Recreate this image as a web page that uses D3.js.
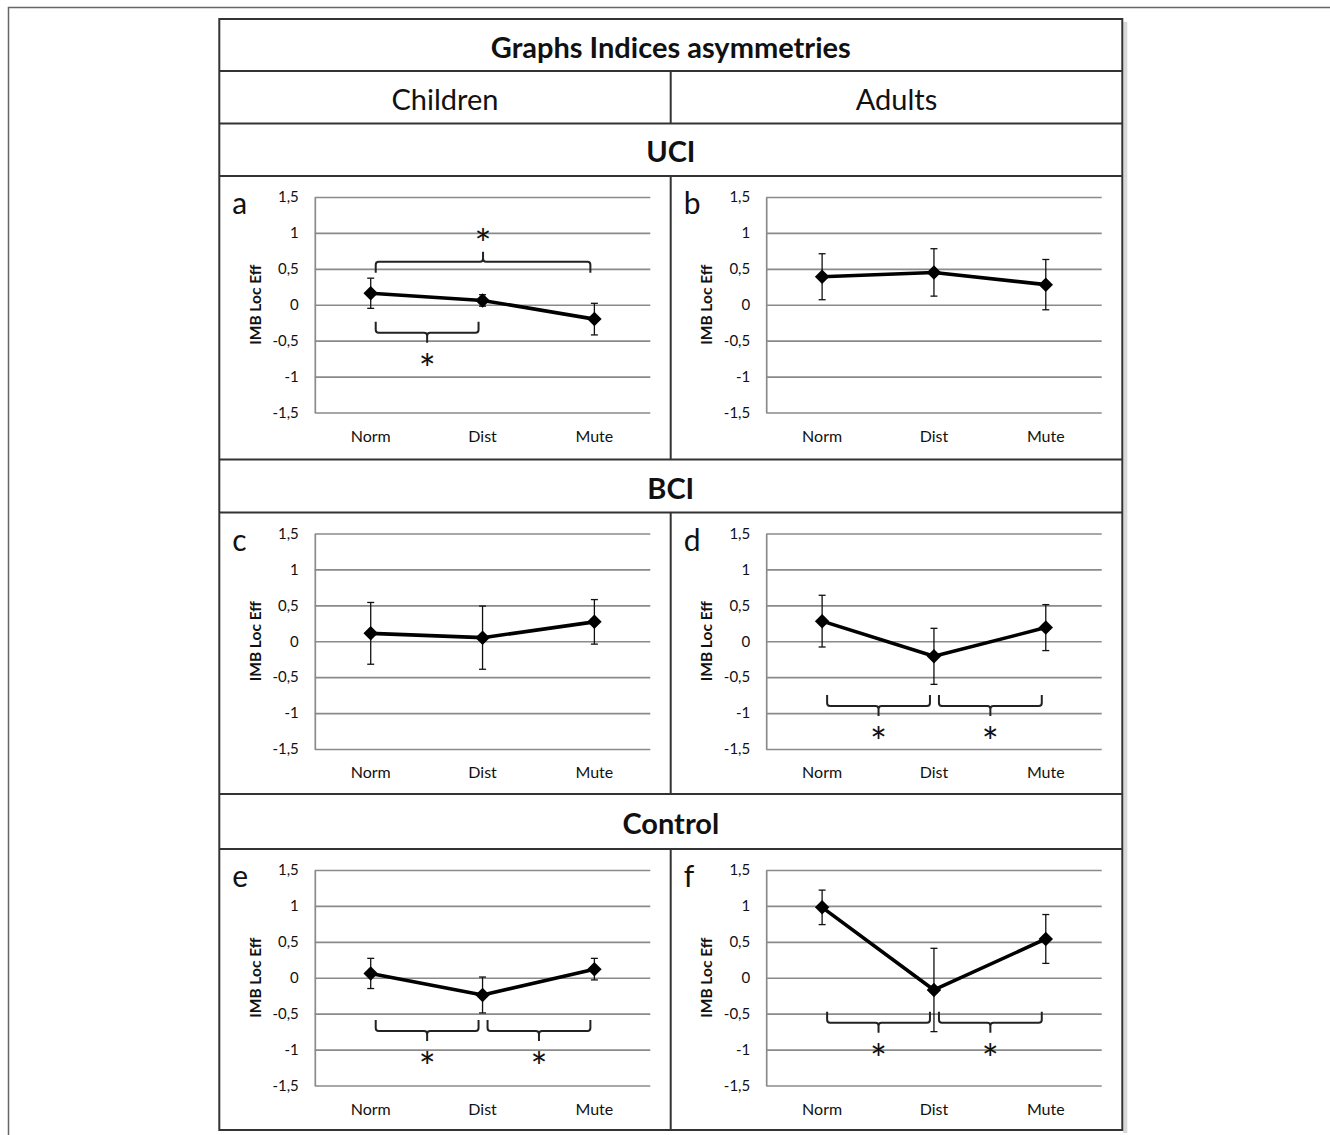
<!DOCTYPE html>
<html>
<head>
<meta charset="utf-8">
<script src="https://cdn.jsdelivr.net/npm/d3@7"></script>
<style>
  body { margin: 0; background: #fff; }
  text { font-family: Lato, 'Open Sans', sans-serif; fill: #111; }
</style>
</head>
<body>
<script>
// categories + axis ticks
const categories = ['Norm', 'Dist', 'Mute'];
const yTicks = [-1.5, -1, -0.5, 0, 0.5, 1, 1.5];
const columnLabels = ['Children', 'Adults'];
const groupLabels = ['UCI', 'BCI', 'Control'];
const chartTitle = 'Graphs Indices asymmetries';
const yTitle = 'IMB Loc Eff';

// means and error (half-length) per panel
const meansA = [0.16, 0.06, -0.2];
const errA = [0.21, 0.08, 0.22];
const meansB = [0.39, 0.45, 0.28];
const errB = [0.32, 0.33, 0.35];
const meansC = [0.11, 0.05, 0.27];
const errC = [0.43, 0.44, 0.31];
const meansD = [0.28, -0.21, 0.19];
const errD = [0.36, 0.39, 0.32];
const meansE = [0.06, -0.24, 0.12];
const errE = [0.21, 0.25, 0.15];
const meansF = [0.98, -0.17, 0.54];
const errF = [0.24, 0.58, 0.34];

// significance brackets: compared pair and bracket level (data units)
const sigA = [
  { from: 'Norm', to: 'Mute', level: 0.6, side: 'up' },
  { from: 'Norm', to: 'Dist', level: -0.39, side: 'down' }
];
const sigD = [
  { from: 'Norm', to: 'Dist', level: -0.9, side: 'down' },
  { from: 'Dist', to: 'Mute', level: -0.9, side: 'down' }
];
const sigE = [
  { from: 'Norm', to: 'Dist', level: -0.74, side: 'down' },
  { from: 'Dist', to: 'Mute', level: -0.74, side: 'down' }
];
const sigF = [
  { from: 'Norm', to: 'Dist', level: -0.625, side: 'down' },
  { from: 'Dist', to: 'Mute', level: -0.625, side: 'down' }
];

const panels = [
  { letter: 'a', col: 0, row: 0, means: meansA, errs: errA, sig: sigA },
  { letter: 'b', col: 1, row: 0, means: meansB, errs: errB, sig: [] },
  { letter: 'c', col: 0, row: 1, means: meansC, errs: errC, sig: [] },
  { letter: 'd', col: 1, row: 1, means: meansD, errs: errD, sig: sigD },
  { letter: 'e', col: 0, row: 2, means: meansE, errs: errE, sig: sigE },
  { letter: 'f', col: 1, row: 2, means: meansF, errs: errF, sig: sigF }
];

const W = 1330, H = 1135;
const svg = d3.select('body').append('svg')
  .attr('width', W).attr('height', H);

// table geometry
const tLeft = 219.3, tRight = 1122.3, tTop = 19, tBottom = 1130;
const colX = [tLeft, 670.7];
const rowLines = [19, 71, 123.5, 176, 459.5, 512.5, 794, 849, 1130];
const panelTops = [176, 512.5, 849];
const groupRows = [[123.5, 176], [459.5, 512.5], [794, 849]];

// faint outer frame of the figure
svg.append('path')
  .attr('d', `M8.5,${H} L8.5,7.5 L${W},7.5`)
  .attr('fill', 'none').attr('stroke', '#666').attr('stroke-width', 1.5);

// shadow right of table
svg.append('rect')
  .attr('x', tRight + 1).attr('y', tTop + 3)
  .attr('width', 4).attr('height', tBottom - tTop)
  .attr('fill', '#d8d8d8');

svg.append('rect')
  .attr('x', tLeft).attr('y', tTop)
  .attr('width', tRight - tLeft).attr('height', tBottom - tTop)
  .attr('fill', '#fff').attr('stroke', '#333').attr('stroke-width', 2);

let table = svg.append('g').attr('stroke', '#333').attr('stroke-width', 2);
rowLines.slice(1, -1).forEach(y => {
  table.append('line').attr('x1', tLeft).attr('x2', tRight).attr('y1', y).attr('y2', y);
});
// column divider, broken by the full-width group rows
[[71, 123.5], [176, 459.5], [512.5, 794], [849, 1130]].forEach(s => {
  table.append('line').attr('x1', colX[1]).attr('x2', colX[1]).attr('y1', s[0]).attr('y2', s[1]);
});

const midX = (tLeft + tRight) / 2;
svg.append('text')
  .attr('x', midX).attr('y', 46)
  .attr('text-anchor', 'middle').attr('dominant-baseline', 'central')
  .style('font-size', '29px').style('font-weight', 'bold')
  .text(chartTitle);

columnLabels.forEach((lab, i) => {
  let x0 = colX[i], x1 = i == 0 ? colX[1] : tRight;
  svg.append('text')
    .attr('x', (x0 + x1) / 2).attr('y', 98)
    .attr('text-anchor', 'middle').attr('dominant-baseline', 'central')
    .style('font-size', '29px')
    .text(lab);
});

groupLabels.forEach((lab, i) => {
  svg.append('text')
    .attr('x', midX).attr('y', (groupRows[i][0] + groupRows[i][1]) / 2 + 1)
    .attr('text-anchor', 'middle').attr('dominant-baseline', 'central')
    .style('font-size', '29px').style('font-weight', 'bold')
    .text(lab);
});

// plot box inside each panel cell
const plotLeft = 95.5, plotRight = 431, plotTop = 21, plotBottom = 236.5;
const fmt = d => String(d).replace('.', ',');

let drawPanel = (p) => {
  let g = svg.append('g')
    .attr('transform', `translate(${colX[p.col]}, ${panelTops[p.row]})`);

  let x = d3.scaleBand().domain(categories).range([plotLeft, plotRight]).padding(0);
  let y = d3.scaleLinear().domain([-1.5, 1.5]).range([plotBottom, plotTop]);
  let cx = d => x(d) + x.bandwidth() / 2;

  // y axis with gridlines
  let yAxis = g.append('g')
    .attr('transform', `translate(${plotLeft}, 0)`)
    .call(d3.axisLeft(y).tickValues(yTicks).tickFormat(fmt)
      .tickSize(-(plotRight - plotLeft)).tickSizeOuter(0).tickPadding(16));
  yAxis.selectAll('line').attr('stroke', '#8a8a8a').attr('stroke-width', 1.7);
  yAxis.select('.domain').attr('stroke', '#8a8a8a').attr('stroke-width', 1.7);
  yAxis.selectAll('text')
    .style('font-size', '15px').style('font-family', 'Lato, sans-serif').attr('fill', '#111');

  let xAxis = g.append('g')
    .attr('transform', `translate(0, ${plotBottom})`)
    .call(d3.axisBottom(x).tickSize(0).tickPadding(18));
  xAxis.select('.domain').remove();
  xAxis.selectAll('text')
    .style('font-size', '16px').style('font-family', 'Lato, sans-serif').attr('fill', '#111');

  g.append('text')
    .attr('transform', `translate(35.5, ${(plotTop + plotBottom) / 2}) rotate(-90)`)
    .attr('text-anchor', 'middle').attr('dominant-baseline', 'central')
    .style('font-size', '15.5px').style('font-weight', 'bold')
    .text(yTitle);

  g.append('text')
    .attr('x', 13).attr('y', 38)
    .style('font-size', '30px')
    .text(p.letter);

  let pts = categories.map((c, i) => ({ c: c, m: p.means[i], e: p.errs[i] }));

  // error bars
  let eb = g.append('g').attr('stroke', '#111').attr('stroke-width', 1.3);
  pts.forEach(d => {
    eb.append('line').attr('x1', cx(d.c)).attr('x2', cx(d.c))
      .attr('y1', y(d.m + d.e)).attr('y2', y(d.m - d.e));
    [d.m + d.e, d.m - d.e].forEach(v => {
      eb.append('line').attr('x1', cx(d.c) - 3.5).attr('x2', cx(d.c) + 3.5)
        .attr('y1', y(v)).attr('y2', y(v));
    });
  });

  g.append('path')
    .datum(pts)
    .attr('d', d3.line().x(d => cx(d.c)).y(d => y(d.m)))
    .attr('fill', 'none').attr('stroke', '#000').attr('stroke-width', 3.6)
    .attr('stroke-linejoin', 'round');

  g.selectAll('.marker')
    .data(pts)
    .enter()
    .append('path')
    .attr('class', 'marker')
    .attr('d', d3.symbol().type(d3.symbolSquare).size(105))
    .attr('transform', d => `translate(${cx(d.c)}, ${y(d.m)}) rotate(45)`)
    .attr('fill', '#000');

  // significance brackets
  p.sig.forEach(s => {
    let x1 = cx(s.from) + 5, x2 = cx(s.to) - 4;
    let xm = (x1 + x2) / 2;
    let yl = y(s.level);
    let k = s.side == 'down' ? 1 : -1;   // direction of the middle tick
    let r = 3, endLen = 11, tick = 10;
    let d = `M${x1},${yl - k * endLen} L${x1},${yl - k * r} Q${x1},${yl} ${x1 + r},${yl}` +
      ` L${xm - r},${yl} Q${xm},${yl} ${xm},${yl + k * r} L${xm},${yl + k * tick}` +
      ` M${xm},${yl + k * r} Q${xm},${yl} ${xm + r},${yl}` +
      ` L${x2 - r},${yl} Q${x2},${yl} ${x2},${yl - k * r} L${x2},${yl - k * endLen}`;
    g.append('path').attr('d', d)
      .attr('fill', 'none').attr('stroke', '#222').attr('stroke-width', 2);
    let starC = yl + k * 27;
    g.append('text')
      .attr('x', xm).attr('y', starC + 24)
      .attr('text-anchor', 'middle')
      .style('font-size', '40px')
      .text('*');
  });
};

panels.forEach(p => drawPanel(p));
</script>
</body>
</html>
